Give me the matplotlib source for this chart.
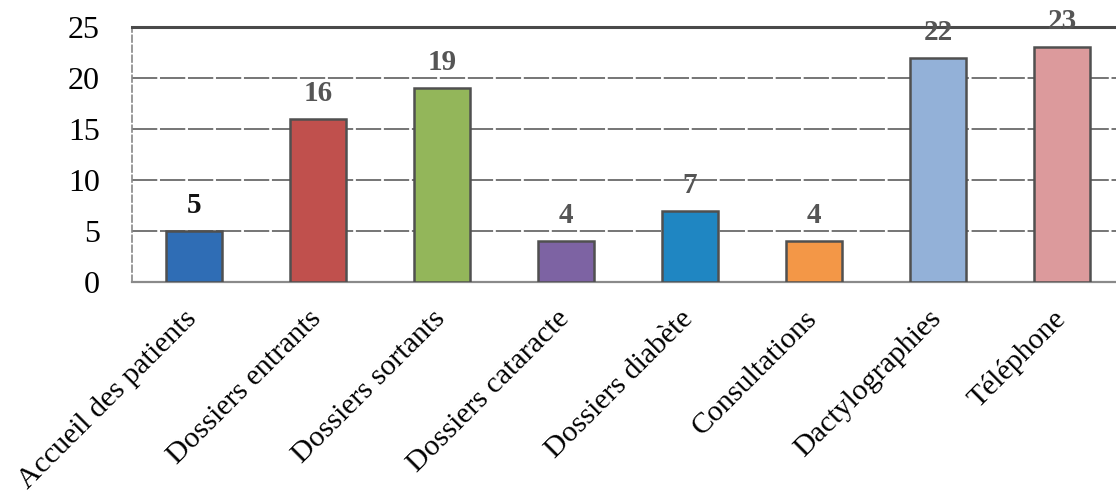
import matplotlib
matplotlib.use("Agg")
import matplotlib.pyplot as plt
import matplotlib.transforms as mtransforms

categories = ["Accueil des patients", "Dossiers entrants", "Dossiers sortants",
              "Dossiers cataracte", "Dossiers diabète", "Consultations",
              "Dactylographies", "Téléphone"]
values = [5, 16, 19, 4, 7, 4, 22, 23]
colors = ["#2f6db5", "#c0504d", "#93b65a", "#7d63a3", "#1f86c2", "#f39747",
          "#93b1d8", "#dc9a9c"]
label_colors = ["#111111"] + ["#555555"] * 7
yticks = [0, 5, 10, 15, 20, 25]

plt.rcParams['font.family'] = ['Liberation Serif', 'DejaVu Serif']

fig = plt.figure(figsize=(11.16, 4.95), dpi=100)
ax = fig.add_axes([132/1116, 1 - 282/495, 1 - 132/1116, (282 - 27)/495])

x = list(range(len(categories)))
ax.bar(x, values, width=0.455, color=colors, edgecolor="#505050", linewidth=1.8, zorder=3)

for xi, v, c in zip(x, values, label_colors):
    ax.annotate(str(v), (xi, v), xytext=(0, 13), textcoords="offset points",
                ha="center", va="baseline", fontsize=21, fontweight="bold", color=c, zorder=4)

ax.set_ylim(0, 25)
ax.set_xlim(-0.5, 7.435)
ax.set_yticks(yticks)
ax.set_yticklabels([str(t) for t in yticks], fontsize=23)
ax.yaxis.grid(True, color="#6a6a6a", linewidth=1.3, linestyle=(0, (14, 1.5)), zorder=0)
ax.set_axisbelow(True)
ax.tick_params(axis="y", length=0, pad=23)
ax.tick_params(axis="x", length=0, pad=17)
ax.set_xticks(x)
ax.set_xticklabels(categories, rotation=45, ha="right", rotation_mode="anchor", fontsize=21.5)
shift = mtransforms.ScaledTranslation(-10/100, 0, fig.dpi_scale_trans)
for lbl in ax.get_xticklabels():
    lbl.set_transform(lbl.get_transform() + shift)

ax.spines["top"].set_color("#4a4a4a")
ax.spines["top"].set_linewidth(2.2)
ax.spines["left"].set_color("#888888")
ax.spines["left"].set_linestyle((0, (4, 2)))
ax.spines["left"].set_linewidth(1.2)
ax.spines["bottom"].set_color("#8a8a8a")
ax.spines["bottom"].set_linewidth(1.6)
ax.spines["right"].set_visible(False)

fig.savefig("out.png", dpi=100)
